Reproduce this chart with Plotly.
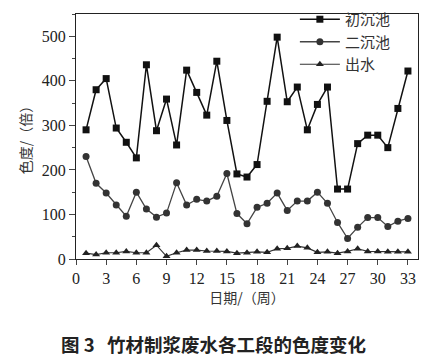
import plotly.graph_objects as go

weeks = list(range(1, 34))
chu_chen = [290, 380, 405, 294, 262, 227, 436, 288, 359, 256, 424, 374, 323, 444, 311,
            191, 184, 212, 354, 498, 353, 386, 290, 347, 386, 157, 157, 259, 278, 278,
            250, 338, 422]
er_chen = [230, 170, 148, 121, 96, 150, 112, 94, 103, 171, 121, 134, 130, 141, 192,
           102, 79, 116, 125, 148, 109, 130, 130, 150, 125, 82, 46, 71, 93, 93,
           73, 85, 91]
chu_shui = [13, 10, 14, 14, 17, 14, 14, 31, 6, 14, 20, 20, 18, 18, 17,
            13, 14, 16, 15, 23, 24, 29, 25, 15, 16, 13, 17, 23, 17, 17,
            16, 16, 16]
x_ticks = list(range(0, 34, 3))
y_ticks = [0, 100, 200, 300, 400, 500]

serif = "Liberation Serif, Times New Roman, serif"
cjk = "Noto Sans CJK SC"

fig = go.Figure()
fig.add_trace(go.Scatter(x=weeks, y=chu_chen, name="初沉池", mode="lines+markers",
                         legendgroup="a",
                         line=dict(color="#111111", width=1.5),
                         marker=dict(symbol="square", size=7, color="#111111")))
fig.add_trace(go.Scatter(x=weeks, y=er_chen, name="二沉池", mode="lines+markers",
                         legendgroup="b",
                         line=dict(color="#444444", width=1.3),
                         marker=dict(symbol="circle", size=7, color="#333333")))
fig.add_trace(go.Scatter(x=weeks, y=chu_shui, name="出水", mode="lines+markers",
                         legendgroup="c",
                         line=dict(color="#333333", width=1.2),
                         marker=dict(symbol="triangle-up", size=7, color="#222222")))

fig.update_layout(
    width=446, height=358,
    margin=dict(l=76, r=28, t=3, b=99),
    paper_bgcolor="white", plot_bgcolor="white",
    font=dict(family=serif, size=16, color="#222222"),
    showlegend=True,
    legend=dict(x=0.64, y=1.045, xanchor="left", yanchor="top",
                bgcolor="rgba(0,0,0,0)", font=dict(family=cjk, size=15, color="#333333"),
                tracegroupgap=0, itemwidth=40),
    xaxis=dict(range=[0, 34], tickvals=x_ticks, ticks="outside", ticklen=5,
               showline=True, linecolor="#222222", linewidth=1.2, mirror=True,
               showgrid=False, zeroline=False, automargin=False,
               tickfont=dict(family=serif, size=16, color="#222222"),
               title=dict(text="日期/（周）", font=dict(family=cjk, size=14, color="#333333"),
                          standoff=6)),
    yaxis=dict(range=[0, 550], tickvals=y_ticks, ticks="outside", ticklen=6,
               minor=dict(dtick=50, ticks="outside", ticklen=3, tick0=0),
               showline=True, linecolor="#222222", linewidth=1.2, mirror=True,
               showgrid=False, zeroline=False, automargin=False,
               tickfont=dict(family=serif, size=16, color="#222222"),
               title=dict(text="色度/（倍）", font=dict(family=cjk, size=14, color="#333333"),
                          standoff=6)),
    annotations=[dict(text="<b>图 3</b>   <b>竹材制浆废水各工段的色度变化</b>",
                      xref="paper", yref="paper", x=-0.05, y=-0.285,
                      xanchor="left", yanchor="top", showarrow=False,
                      font=dict(family=cjk, size=18.5, color="#222222"))],
)

fig.write_html("out.html", config={"displayModeBar": False},
               post_script="document.body.style.margin='0';")
